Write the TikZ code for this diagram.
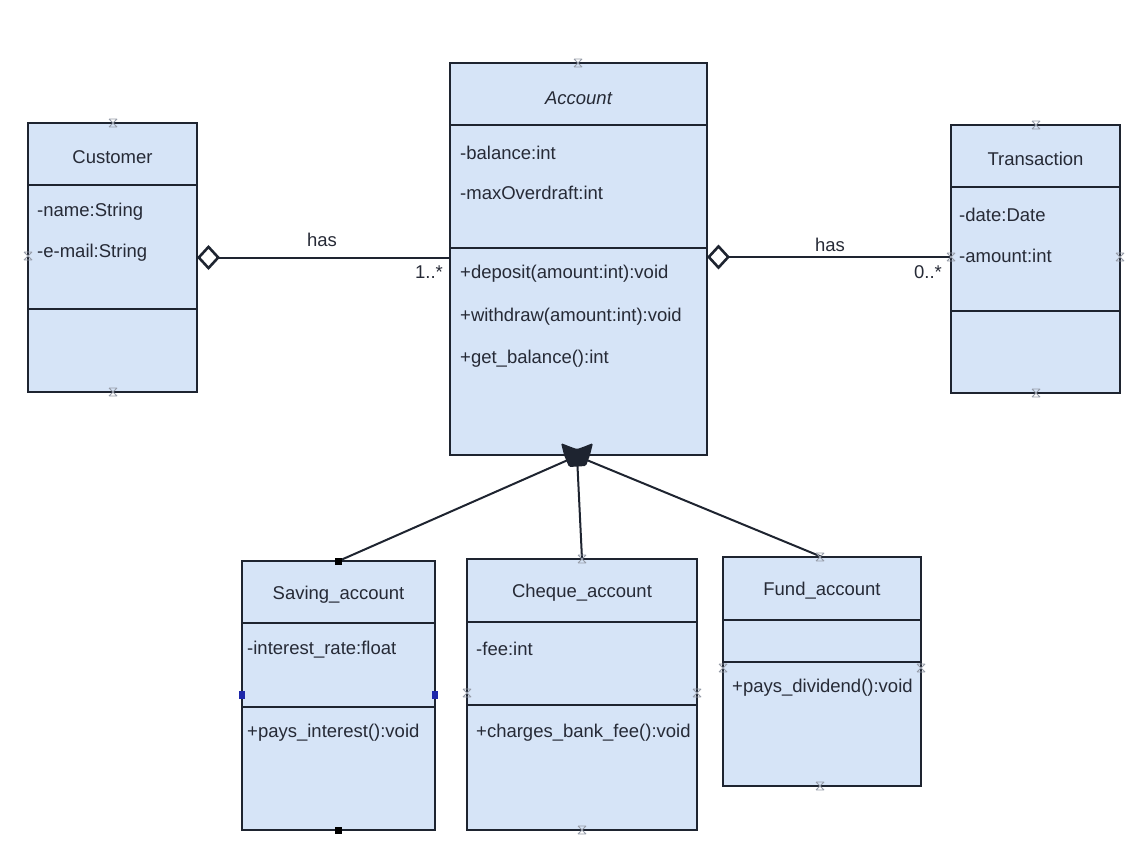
\documentclass[tikz,border=0pt]{standalone}
\usepackage{fontspec}
\setmainfont{Liberation Sans}
\usetikzlibrary{arrows.meta}

\definecolor{boxfill}{RGB}{214,228,247}
\definecolor{boxline}{RGB}{30,36,48}
\definecolor{ink}{RGB}{38,42,54}
\definecolor{portgrey}{RGB}{150,156,168}
\definecolor{selblue}{RGB}{30,40,170}

\newcommand{\umlfont}{\fontsize{18.5}{22}\selectfont}

\tikzset{
  cls/.style={draw=boxline, fill=boxfill, line width=2pt, inner sep=0pt, outer sep=0pt, anchor=north west},
  sepline/.style={draw=boxline, line width=2pt},
  ttl/.style={font=\umlfont, text=ink, inner sep=0pt, anchor=center},
  mem/.style={font=\umlfont, text=ink, inner sep=0pt, anchor=west},
  lbl/.style={font=\umlfont, text=ink, inner sep=0pt},
  conn/.style={draw=boxline, line width=2pt},
  agg/.style={conn, {Diamond[length=23pt,width=25pt,fill=white,line width=2.6pt]}-},
  portx/.style={draw=portgrey, line width=0.9pt},
}

\begin{document}
\begin{tikzpicture}[x=1pt,y=-1pt]
\useasboundingbox (0,0) rectangle (1126,843);

% ---------- Customer ----------
\node[cls, minimum width=169pt, minimum height=269pt] (cust) at (28,123) {};
\draw[sepline] (cust.west |- 0,185) -- (cust.east |- 0,185);
\draw[sepline] (cust.west |- 0,309) -- (cust.east |- 0,309);
\node[ttl] (custT) at (112.5,157) {Customer};
\node[mem] (custA1) at (37,212) {-name:String};
\node[mem] (custA2) at (37,253) {-e-mail:String};

% ---------- Account ----------
\node[cls, minimum width=257pt, minimum height=392pt] (acct) at (450,63) {};
\draw[sepline] (acct.west |- 0,125) -- (acct.east |- 0,125);
\draw[sepline] (acct.west |- 0,248) -- (acct.east |- 0,248);
\node[ttl, font=\umlfont\itshape] (acctT) at (578.5,98) {Account};
\node[mem] (acctA1) at (460,153) {-balance:int};
\node[mem] (acctA2) at (460,193) {-maxOverdraft:int};
\node[mem] (acctM1) at (460,274) {+deposit(amount:int):void};
\node[mem] (acctM2) at (460,317) {+withdraw(amount:int):void};
\node[mem] (acctM3) at (460,359) {+get\_balance():int};

% ---------- Transaction ----------
\node[cls, minimum width=169pt, minimum height=268pt] (tran) at (951,125) {};
\draw[sepline] (tran.west |- 0,187) -- (tran.east |- 0,187);
\draw[sepline] (tran.west |- 0,311) -- (tran.east |- 0,311);
\node[ttl] (tranT) at (1035.5,159) {Transaction};
\node[mem] (tranA1) at (959,215) {-date:Date};
\node[mem] (tranA2) at (959,256) {-amount:int};

% ---------- Saving_account ----------
\node[cls, minimum width=193pt, minimum height=269pt] (sav) at (242,561) {};
\draw[sepline] (sav.west |- 0,623) -- (sav.east |- 0,623);
\draw[sepline] (sav.west |- 0,707) -- (sav.east |- 0,707);
\node[ttl] (savT) at (338.5,595) {Saving\_account};
\node[mem] (savA1) at (247,650) {-interest\_rate:float};
\node[mem] (savM1) at (247,733) {+pays\_interest():void};

% ---------- Cheque_account ----------
\node[cls, minimum width=230pt, minimum height=271pt] (chq) at (467,559) {};
\draw[sepline] (chq.west |- 0,622) -- (chq.east |- 0,622);
\draw[sepline] (chq.west |- 0,705) -- (chq.east |- 0,705);
\node[ttl] (chqT) at (582,593) {Cheque\_account};
\node[mem] (chqA1) at (476,649) {-fee:int};
\node[mem] (chqM1) at (476,733) {+charges\_bank\_fee():void};

% ---------- Fund_account ----------
\node[cls, minimum width=198pt, minimum height=229pt] (fund) at (723,557) {};
\draw[sepline] (fund.west |- 0,620) -- (fund.east |- 0,620);
\draw[sepline] (fund.west |- 0,662) -- (fund.east |- 0,662);
\node[ttl] (fundT) at (822,591) {Fund\_account};
\node[mem] (fundM1) at (732,688) {+pays\_dividend():void};

% ---------- aggregations ----------
\draw[agg] (cust.east) -- (cust.east -| acct.west);
\draw[agg] (acct.east |- 0,257) -- (tran.west |- 0,257);
\node[lbl] (has1) at (322,240) {has};
\node[lbl] (mult1) at (429,272) {1..*};
\node[lbl] (has2) at (830,245) {has};
\node[lbl] (mult2) at (928,272) {0..*};

% ---------- generalisations ----------
\coordinate (gen) at (577,456);
\draw[conn] (sav.north) -- (gen);
\draw[conn] (chq.north) -- (gen);
\draw[conn] (fund.north) -- (gen);
% merged inheritance heads
\fill[boxline, rounded corners=1.5pt]
  (561,443) -- (571,447) -- (577,449) -- (583,447) -- (593,443)
  -- (590,455) -- (586,466) -- (569,467) -- (564,455) -- cycle;

% ---------- selection handles on Saving_account ----------
\fill[black] ([shift={(-3.5,-3.5)}]sav.north) rectangle ++(7,7);
\fill[black] ([shift={(-3.5,-3.5)}]sav.south) rectangle ++(7,7);
\fill[selblue] (239,691) rectangle ++(6,8);
\fill[selblue] (432,691) rectangle ++(6,8);

% ---------- connection ports ----------
\foreach \px/\py in {578/63, 113/123, 113/392, 28/256, 1036/125, 1036/393, 1120/257, 951/257,
                     582/559, 582/830, 467/693, 697/693, 820/557, 820/786, 723/668, 921/668}{
  \draw[portx] (\px-4,\py-4) -- (\px+4,\py+4) (\px-4,\py+4) -- (\px+4,\py-4)
               (\px-4,\py-4) -- (\px+4,\py-4) (\px-4,\py+4) -- (\px+4,\py+4);
}
\end{tikzpicture}
\end{document}
